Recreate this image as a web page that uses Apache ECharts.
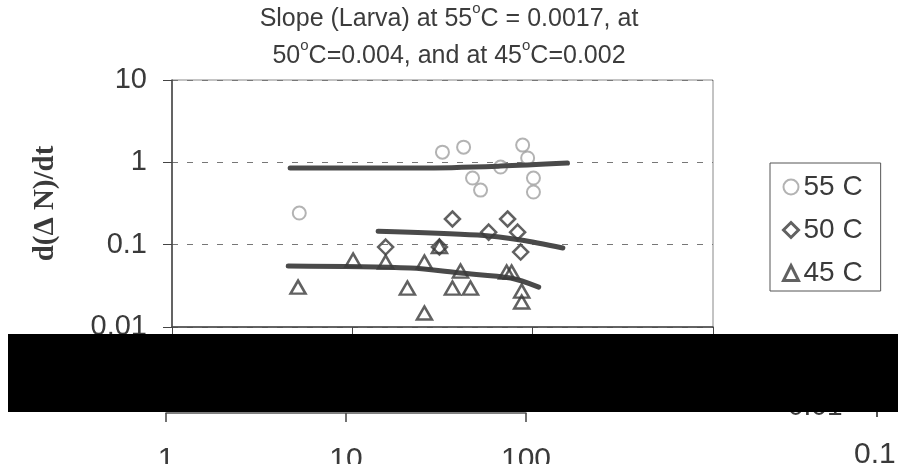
<!DOCTYPE html>
<html lang="en">
<head>
  <meta charset="UTF-8">
  <title>Slope (Larva)</title>
  <style>
    html, body { margin: 0; padding: 0; background: #fff; }
  </style>
</head>
<body>
<div id="main" style="width: 898px;height:464px;"></div>
<script src="https://cdn.jsdelivr.net/npm/echarts@6/dist/echarts.min.js"></script>
<script type="text/javascript">
  // points: [x, d(dN)/dt]
  const pts55 = [[5.08, 0.242], [31.6, 1.33], [41.4, 1.53], [46.4, 0.644], [51.4, 0.46],
    [66.4, 0.877], [88, 1.62], [93.8, 1.13], [101, 0.644], [101, 0.436]]
  const pts50 = [[15.3, 0.0935], [30.4, 0.0935], [35.9, 0.205], [57, 0.142], [72.6, 0.205],
    [82.5, 0.142], [85.8, 0.0813]]
  const pts45 = [[5.0, 0.0305], [10.1, 0.065], [15.3, 0.0615], [20.2, 0.0297], [25.1, 0.0148],
    [25.1, 0.0615], [30.4, 0.095], [35.9, 0.0297], [39.8, 0.0478], [45.2, 0.0297],
    [71.7, 0.0465], [76.4, 0.0465], [86.9, 0.0273], [86.9, 0.0201]]

  // fitted curves
  const fit55 = [[4.52, 0.853], [23.9, 0.853], [66.4, 0.9], [156, 0.98]]
  const fit50 = [[13.9, 0.146], [49.5, 0.131], [85.8, 0.114], [147, 0.091]]
  const fit45 = [[4.41, 0.055], [21, 0.052], [39.8, 0.0452], [75.5, 0.0393], [108, 0.0305]]

  const seriesNames = ['55 C', '50 C', '45 C']
  const yTickLabels = {0.01: '0.01', 0.1: '0.1', 1: '1', 10: '10'}
  const xTickLabels = {1: '1', 10: '10', 100: '100'}

  const Chart = echarts.init(document.getElementById('main'));
  const font = 'Liberation Sans, Arial, sans-serif'

  const fitLine = (data) => ({
    type: 'line',
    data: data,
    smooth: 0.3,
    symbol: 'none',
    silent: true,
    lineStyle: {color: '#4a4a4a', width: 5, cap: 'round'},
    z: 3
  })

  const option = {
    animation: false,
    title: {
      left: 'center',
      top: 1,
      padding: 0,
      text: '{t|Slope (Larva) at 55}{s|o}{t|C = 0.0017, at}\n{t|50}{s|o}{t|C=0.004, and at 45}{s|o}{t|C=0.002}',
      textStyle: {
        fontWeight: 'normal',
        rich: {
          t: {fontFamily: font, fontSize: 25, fontWeight: 'normal', color: '#3c3c3c', lineHeight: 37},
          s: {fontFamily: font, fontSize: 15, fontWeight: 'normal', color: '#3c3c3c', lineHeight: 37, verticalAlign: 'top', padding: [0, 0, 12, 0]}
        }
      }
    },
    legend: {
      data: [
        {name: seriesNames[0], icon: 'circle', itemStyle: {color: '#fff', borderColor: '#a0a0a0', borderWidth: 2}},
        {name: seriesNames[1], icon: 'diamond', itemStyle: {color: '#fff', borderColor: '#3a3a3a', borderWidth: 3}},
        {name: seriesNames[2], icon: 'triangle', itemStyle: {color: '#fff', borderColor: '#3a3a3a', borderWidth: 3}}
      ],
      orient: 'vertical',
      left: 770,
      top: 163,
      padding: [10, 18, 4, 12],
      itemGap: 15,
      itemWidth: 15,
      itemHeight: 15,
      borderColor: '#555',
      borderWidth: 1,
      textStyle: {fontFamily: font, fontSize: 28, color: '#3a3a3a'}
    },
    grid: [
      {left: 172, top: 80, width: 541, height: 247, show: true, borderColor: '#888', borderWidth: 1, outerBoundsMode: 'none'},
      {left: 166, top: 300, width: 360, height: 113, outerBoundsMode: 'none'}
    ],
    xAxis: [
      {
        type: 'log', logBase: 10, min: 1, max: 1000, gridIndex: 0,
        axisLine: {lineStyle: {color: '#444', width: 1.5}},
        axisTick: {length: 7, lineStyle: {color: '#444'}},
        axisLabel: {show: false},
        splitLine: {show: false}
      },
      {
        type: 'log', logBase: 10, min: 1, max: 100, gridIndex: 1,
        axisLine: {show: true, lineStyle: {color: '#555', width: 1.5}},
        axisTick: {show: true, length: 9, lineStyle: {color: '#444', width: 1.5}},
        axisLabel: {
          margin: 32, fontFamily: font, fontSize: 30, color: '#3a3a3a',
          formatter: (v) => xTickLabels[v] || ''
        },
        splitLine: {show: false}
      }
    ],
    yAxis: [
      {
        type: 'log', logBase: 10, min: 0.01, max: 10, gridIndex: 0,
        name: 'd(Δ N)/dt',
        nameLocation: 'middle',
        nameGap: 112,
        nameTextStyle: {fontFamily: 'Liberation Serif, Times New Roman, serif', fontWeight: 'bold', fontSize: 29, color: '#3a3a3a'},
        axisLine: {lineStyle: {color: '#444', width: 1.5}},
        axisTick: {length: 9, lineStyle: {color: '#444'}},
        axisLabel: {
          margin: 25, fontFamily: font, fontSize: 29, color: '#3a3a3a',
          formatter: (v) => yTickLabels[v] || ''
        },
        splitLine: {show: true, lineStyle: {color: '#777', type: [6, 9], width: 1}}
      },
      {
        type: 'log', min: 1, max: 10, gridIndex: 1, show: false
      }
    ],
    graphic: [
      {type: 'text', left: 788, top: 393, style: {text: '0.01', fontFamily: font, fontSize: 28, fill: '#3a3a3a'}, z: 1},
      {type: 'rect', shape: {x: 876, y: 412, width: 2, height: 5}, style: {fill: '#555'}, z: 1},
      {type: 'text', left: 854, top: 440, style: {text: '0.1', fontFamily: font, fontSize: 30, fill: '#3a3a3a'}, z: 1},
      {type: 'rect', shape: {x: 8, y: 334, width: 890, height: 78}, style: {fill: '#000'}, z: 100}
    ],
    series: [
      {
        name: seriesNames[0], type: 'scatter', data: pts55,
        symbol: 'circle', symbolSize: 13,
        itemStyle: {color: '#fff', borderColor: '#a0a0a0', borderWidth: 2},
        z: 2
      },
      {
        name: seriesNames[1], type: 'scatter', data: pts50,
        symbol: 'diamond', symbolSize: [15, 15],
        itemStyle: {color: 'rgba(255,255,255,0)', borderColor: '#3a3a3a', borderWidth: 2.5},
        z: 4
      },
      {
        name: seriesNames[2], type: 'scatter', data: pts45,
        symbol: 'triangle', symbolSize: [15, 13],
        itemStyle: {color: 'rgba(255,255,255,0)', borderColor: '#3a3a3a', borderWidth: 2.5},
        z: 4
      },
      fitLine(fit55),
      fitLine(fit50),
      fitLine(fit45)
    ]
  };

  Chart.setOption(option)
</script>
</body>
</html>
